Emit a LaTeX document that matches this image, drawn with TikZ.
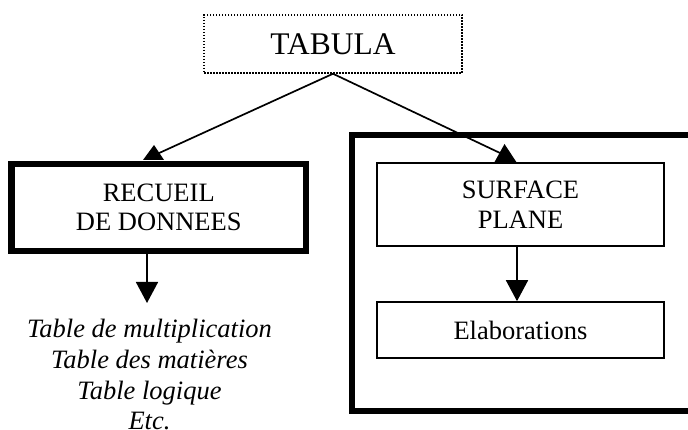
\documentclass[tikz,border=0pt]{standalone}
\usepackage{fontspec}
\setmainfont{Liberation Serif}
\usetikzlibrary{arrows.meta}
\tikzset{
  thinbox/.style={draw, line width=1.6pt, inner sep=0pt, align=center,
    font=\fontsize{26.5}{30}\selectfont},
  thickbox/.style={draw, line width=6.5pt, inner sep=0pt, align=center,
    font=\fontsize{26.5}{29.5}\selectfont},
  link/.style={line width=1.7pt},
  vlink/.style={line width=1.7pt, -{Triangle[length=21pt,width=22pt]}},
  headtri/.style={fill=black},
}
\begin{document}
\begin{tikzpicture}[x=1pt,y=-1pt]
\useasboundingbox (0,0) rectangle (688,430);
\clip (0,0) rectangle (688,430);
% TABULA
\node[draw, line width=1.5pt, dash pattern=on 1.5pt off 1.5pt, minimum width=258pt,
  minimum height=58pt, inner sep=0pt, font=\fontsize{31.5}{34}\selectfont]
  (tab) at (333,44) {TABULA};
% large frame on the right (cut by the picture edge)
\node[draw, line width=6pt, minimum width=370pt, minimum height=275pt, inner sep=0pt]
  (frame) at (537,273) {};
% boxes
\node[thickbox, minimum width=294.5pt, minimum height=87pt] (rec) at (158.75,207.5)
  {RECUEIL\\DE DONNEES};
\node[thinbox, minimum width=287pt, minimum height=83pt] (surf) at (520.5,204.5)
  {SURFACE\\PLANE};
\node[thinbox, minimum width=287pt, minimum height=56pt] (elab) at (520.5,330)
  {Elaborations};
% list
\node[anchor=north, inner sep=0pt, align=center,
  font=\fontsize{26.5}{30.8}\selectfont\itshape] (list) at (149.5,319)
  {Table de multiplication\\Table des matières\\Table logique\\Etc.};
% diagonal connectors with their heads
\coordinate (h1) at (157,154);
\coordinate (h2) at (500,153);
\draw[link] (tab.south) -- (h1);
\draw[link] (tab.south) -- (h2);
\fill[headtri] (143,160) -- (154,145) -- (164,160) -- cycle;
\fill[headtri] (494,163) -- (504.5,144) -- (517,163) -- cycle;
% vertical connectors
\coordinate (r1) at (147,253);
\coordinate (r2) at (147,303);
\draw[vlink] (r1) -- (r2);
\draw[vlink] (surf.south -| 517,0) -- (elab.north -| 517,0);
\end{tikzpicture}
\end{document}
